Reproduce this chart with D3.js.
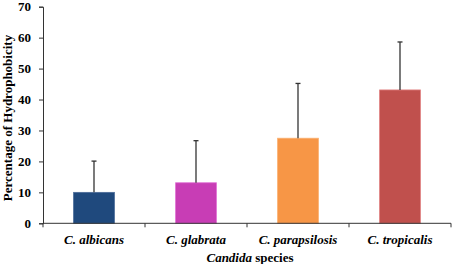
<!DOCTYPE html>
<html lang="en">
<head>
<meta charset="UTF-8">
<title>Candida hydrophobicity</title>
<script src="https://d3js.org/d3.v7.min.js"></script>
<style>
  body { margin:0; background:#fff; }
  text { font-family:"Liberation Serif","Times New Roman",serif; font-weight:bold; fill:#000; }
  .axis path, .axis line { stroke:#333; }
</style>
</head>
<body>
<script>
var species = ["C. albicans", "C. glabrata", "C. parapsilosis", "C. tropicalis"];
var means = [10, 13.1, 27.5, 43.1];
var sds = [10.1, 13.6, 17.7, 15.5];
var colors = ["#1f497d", "#c83db5", "#f79646", "#c0504d"];
var strokes = ["#4a6c99", "#e070d4", "#fbb070", "#e08080"];
var yTicks = [0, 10, 20, 30, 40, 50, 60, 70];

var width = 454, height = 264;
var padL = 43, padR = 451, padT = 6.7, padB = 223.3;

var svg = d3.select("body").append("svg")
    .attr("width", width).attr("height", height);

var x = d3.scaleBand().domain(species)
    .range([padL, padR]).paddingInner(0.6).paddingOuter(0.3);
var y = d3.scaleLinear().domain([0, 70]).range([padB, padT]);

// bars
svg.selectAll("rect.bar").data(species).enter().append("rect")
    .attr("class", "bar")
    .attr("x", function(d){ return x(d); })
    .attr("y", function(d, i){ return y(means[i]); })
    .attr("width", x.bandwidth())
    .attr("height", function(d, i){ return y(0) - y(means[i]); })
    .attr("fill", function(d, i){ return colors[i]; })
    .attr("stroke", function(d, i){ return strokes[i]; })
    .attr("stroke-width", 0.8);

// error bars (upper only)
var eb = svg.selectAll("g.err").data(species).enter().append("g").attr("class", "err");
eb.append("line")
    .attr("x1", function(d){ return x(d) + x.bandwidth()/2; })
    .attr("x2", function(d){ return x(d) + x.bandwidth()/2; })
    .attr("y1", function(d, i){ return y(means[i]); })
    .attr("y2", function(d, i){ return y(means[i] + sds[i]); })
    .attr("stroke", "#333").attr("stroke-width", 1.3);
eb.append("line")
    .attr("x1", function(d){ return x(d) + x.bandwidth()/2 - 2.5; })
    .attr("x2", function(d){ return x(d) + x.bandwidth()/2 + 2.5; })
    .attr("y1", function(d, i){ return y(means[i] + sds[i]); })
    .attr("y2", function(d, i){ return y(means[i] + sds[i]); })
    .attr("stroke", "#333").attr("stroke-width", 1.3);

// y axis
var yAxis = d3.axisLeft(y).tickValues(yTicks).tickSize(4).tickPadding(8);
var yg = svg.append("g").attr("class", "axis")
    .attr("transform", "translate(" + padL + ",0)").call(yAxis);
yg.selectAll("text").style("font-size", "13px");

// x axis with ticks at category boundaries
var xg = svg.append("g").attr("class", "axis");
xg.append("line").attr("x1", padL).attr("x2", padR)
    .attr("y1", padB).attr("y2", padB)
    .attr("stroke", "#333");
var bounds = species.map(function(d){ return x(d) - x.step() * x.paddingInner() / 2; }).concat([padR]);
bounds[0] = padL;
xg.selectAll("line.tk").data(bounds).enter().append("line")
    .attr("x1", function(d){ return d; }).attr("x2", function(d){ return d; })
    .attr("y1", padB).attr("y2", padB + 4)
    .attr("stroke", "#333");
xg.selectAll("text").data(species).enter().append("text")
    .attr("x", function(d){ return x(d) + x.bandwidth()/2; })
    .attr("y", 244)
    .attr("text-anchor", "middle")
    .style("font-style", "italic")
    .style("font-size", "13px")
    .text(function(d){ return d; });

// axis titles
var xt = svg.append("text")
    .attr("x", (padL + padR) / 2 + 3).attr("y", 262)
    .attr("text-anchor", "middle").style("font-size", "13px");
xt.append("tspan").style("font-style", "italic").text("Candida");
xt.append("tspan").text(" species");

svg.append("text")
    .attr("transform", "translate(12," + ((padT + padB) / 2 + 3) + ") rotate(-90)")
    .attr("text-anchor", "middle").style("font-size", "13px")
    .text("Percentage of Hydrophobicity");
</script>
</body>
</html>
